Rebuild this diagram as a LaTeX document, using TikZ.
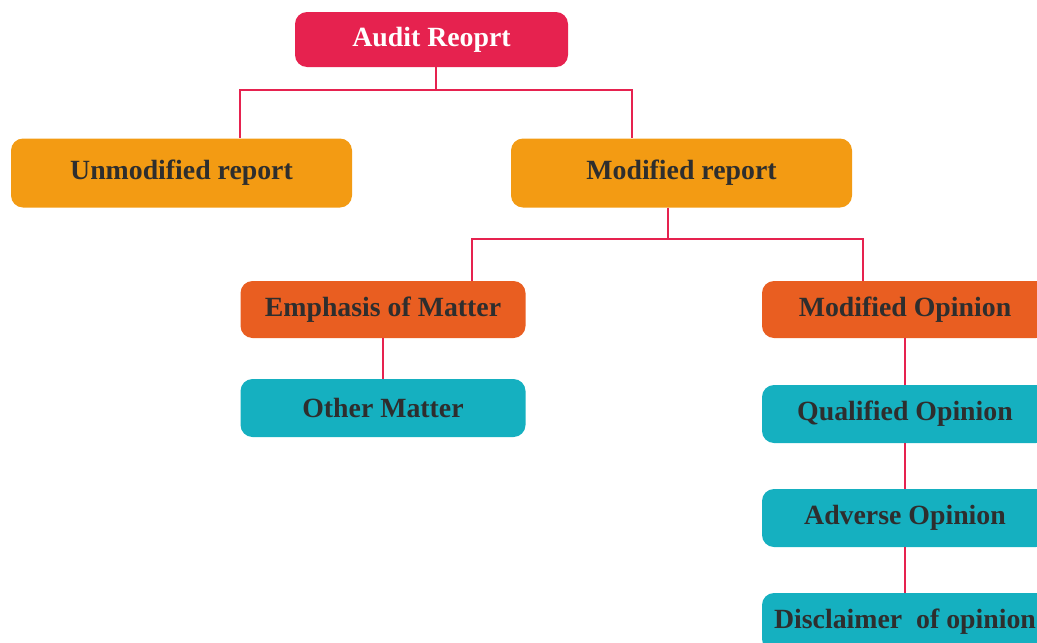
\documentclass[tikz,border=0pt]{standalone}
\usepackage{fontspec}
\setmainfont{Liberation Serif}
\begin{document}
\definecolor{crimson}{HTML}{E6224F}
\definecolor{amber}{HTML}{F39B13}
\definecolor{rust}{HTML}{E95E21}
\definecolor{teal}{HTML}{15B0C0}
\definecolor{ink}{HTML}{2E2E2E}
\begin{tikzpicture}[x=1pt,y=-1pt,
  box/.style={rectangle, rounded corners=12pt, inner sep=0pt, text=ink,
    font=\fontsize{27.8}{30}\selectfont\bfseries},
  wide/.style={box, minimum width=341pt, minimum height=69pt, fill=amber},
  midbox/.style={box, minimum width=285pt, minimum height=57pt},
  link/.style={draw=crimson, line width=2.2pt}]
\useasboundingbox (0,0) rectangle (1037,643);

% top level
\node[box, fill=crimson, text=white, minimum width=273pt, minimum height=55pt]
  (audit) at (431.5,39.5) {Audit Reoprt};

% second level
\node[wide] (unmod) at (181.5,173) {Unmodified report};
\node[wide] (mod) at (681.5,173) {Modified report};

% third level
\node[midbox, fill=rust] (emph) at (383,309.5) {Emphasis of Matter};
\node[midbox, fill=rust, minimum width=286pt] (modop) at (905,309.5) {Modified Opinion};

% leaves
\node[midbox, fill=teal, minimum height=58pt] (other) at (383,408) {Other Matter};
\node[midbox, fill=teal, minimum width=286pt, minimum height=58pt] (qual) at (905,414) {Qualified Opinion};
\node[midbox, fill=teal, minimum width=286pt, minimum height=58pt] (adv) at (905,518) {Adverse Opinion};
\node[midbox, fill=teal, minimum width=286pt, minimum height=58pt] (disc) at (905,622) {Disclaimer\ \ of opinion};

% junctions and tap points
\coordinate (j1) at (436,90);
\coordinate (j2) at (668,239);
\coordinate (tapA) at (240,0);
\coordinate (tapB) at (632,0);
\coordinate (tapC) at (472,0);
\coordinate (tapD) at (863,0);

\draw[link] (audit.south -| j1) -- (j1);
\draw[link] (j1) -| (unmod.north -| tapA);
\draw[link] (j1) -| (mod.north -| tapB);
\draw[link] (mod.south -| j2) -- (j2);
\draw[link] (j2) -| (emph.north -| tapC);
\draw[link] (j2) -| (modop.north -| tapD);
\draw[link] (emph.south) -- (other.north);
\draw[link] (modop.south) -- (qual.north);
\draw[link] (qual.south) -- (adv.north);
\draw[link] (adv.south) -- (disc.north);
\end{tikzpicture}
\end{document}
